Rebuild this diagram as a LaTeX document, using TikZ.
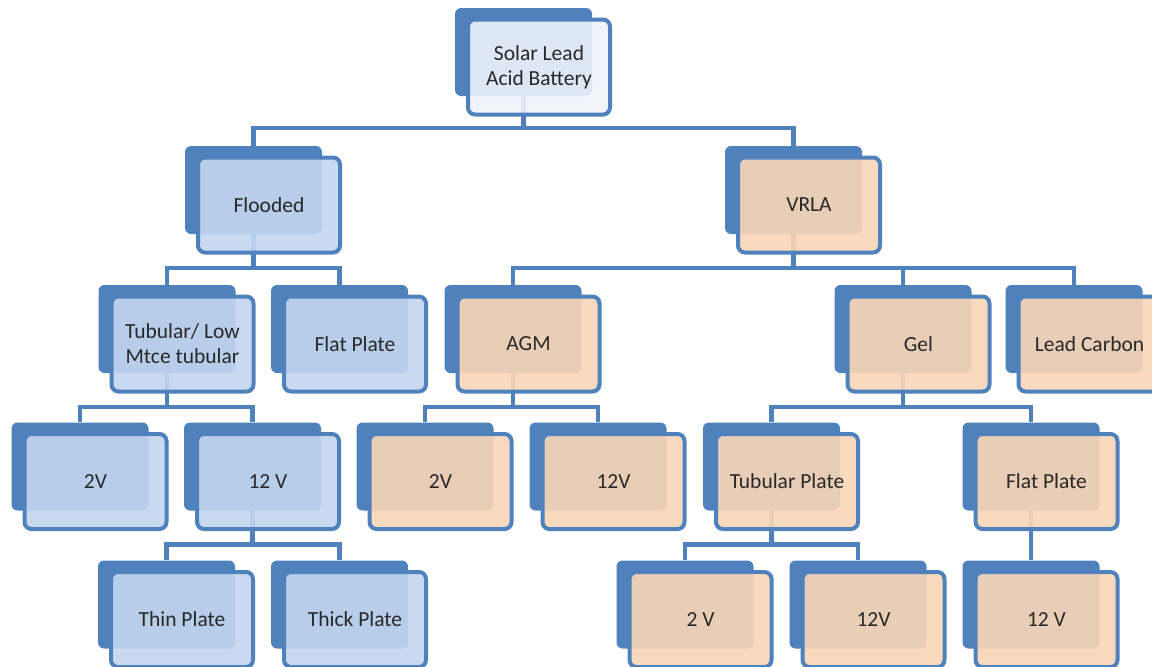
\documentclass[tikz,border=0pt]{standalone}
\usepackage{fontspec}
\setmainfont{Carlito}
\definecolor{bblue}{RGB}{79,129,189}
\definecolor{lblue}{RGB}{195,214,238}
\definecolor{wblue}{RGB}{238,243,250}
\definecolor{lorange}{RGB}{249,214,183}
\definecolor{txt}{RGB}{40,40,40}
\tikzset{
  backbox/.style={fill=bblue, draw=none, rounded corners=6pt, minimum width=137pt, minimum height=88pt, inner sep=0pt},
  frontbox/.style={draw=bblue, line width=4pt, rounded corners=7pt, minimum width=142pt, minimum height=95pt,
    inner sep=0pt, fill opacity=0.9, text opacity=1, align=center, text=txt,
    font=\fontsize{21.5pt}{25pt}\selectfont},
  wh/.style={frontbox, fill=wblue},
  bl/.style={frontbox, fill=lblue},
  or/.style={frontbox, fill=lorange},
  conn/.style={draw=bblue, line width=4.5pt, line join=miter}
}
\begin{document}
\begin{tikzpicture}[x=1pt,y=-1pt]
\useasboundingbox (0,0) rectangle (1152,667);
\clip (0,0) rectangle (1152,667);
% back boxes
\node[backbox] (rootb) at (523.5,52) {};
\node[backbox] (floodb) at (253.5,190) {};
\node[backbox] (vrlab) at (793.5,190) {};
\node[backbox] (tubb) at (167,329) {};
\node[backbox] (fpb) at (339.5,329) {};
\node[backbox] (agmb) at (513,329) {};
\node[backbox] (gelb) at (903,329) {};
\node[backbox] (lcb) at (1074,329) {};
\node[backbox] (tvtwob) at (80,466.5) {};
\node[backbox] (tvtwelveb) at (252.5,466.5) {};
\node[backbox] (atwob) at (425,466.5) {};
\node[backbox] (atwelveb) at (598,466.5) {};
\node[backbox] (tpb) at (771.5,466.5) {};
\node[backbox] (gfpb) at (1031,466.5) {};
\node[backbox] (thinb) at (166.5,604.5) {};
\node[backbox] (thickb) at (339.5,604.5) {};
\node[backbox] (tptwob) at (685,604.5) {};
\node[backbox] (tptwelveb) at (858,604.5) {};
\node[backbox] (gftwelveb) at (1031,604.5) {};
% connectors
\draw[conn] (rootb.south) -- ++(0,32) -| (floodb.north);
\draw[conn] (rootb.south) -- ++(0,32) -| (vrlab.north);
\draw[conn] (floodb.south) -- ++(0,34) -| (tubb.north);
\draw[conn] (floodb.south) -- ++(0,34) -| (fpb.north);
\draw[conn] (vrlab.south) -- ++(0,34) -| (agmb.north);
\draw[conn] (vrlab.south) -- ++(0,34) -| (gelb.north);
\draw[conn] (vrlab.south) -- ++(0,34) -| (lcb.north);
\draw[conn] (tubb.south) -- ++(0,34) -| (tvtwob.north);
\draw[conn] (tubb.south) -- ++(0,34) -| (tvtwelveb.north);
\draw[conn] (agmb.south) -- ++(0,34) -| (atwob.north);
\draw[conn] (agmb.south) -- ++(0,34) -| (atwelveb.north);
\draw[conn] (gelb.south) -- ++(0,34) -| (tpb.north);
\draw[conn] (gelb.south) -- ++(0,34) -| (gfpb.north);
\draw[conn] (tvtwelveb.south) -- ++(0,34) -| (thinb.north);
\draw[conn] (tvtwelveb.south) -- ++(0,34) -| (thickb.north);
\draw[conn] (tpb.south) -- ++(0,34) -| (tptwob.north);
\draw[conn] (tpb.south) -- ++(0,34) -| (tptwelveb.north);
\draw[conn] (gfpb.south) -- (gftwelveb.north);
% front boxes
\node[wh] (root) at ([shift={(15.5,15)}]rootb.center) {Solar Lead\\Acid Battery};
\node[bl] (flood) at ([shift={(15.5,15)}]floodb.center) {Flooded};
\node[or] (vrla) at ([shift={(15.5,15)}]vrlab.center) {VRLA};
\node[bl] (tub) at ([shift={(15.5,15)}]tubb.center) {Tubular/ Low\\Mtce tubular};
\node[bl] (fp) at ([shift={(15.5,15)}]fpb.center) {Flat Plate};
\node[or] (agm) at ([shift={(15.5,15)}]agmb.center) {AGM};
\node[or] (gel) at ([shift={(15.5,15)}]gelb.center) {Gel};
\node[or] (lc) at ([shift={(15.5,15)}]lcb.center) {Lead Carbon};
\node[bl] (tvtwo) at ([shift={(15.5,15)}]tvtwob.center) {2V};
\node[bl] (tvtwelve) at ([shift={(15.5,15)}]tvtwelveb.center) {12 V};
\node[or] (atwo) at ([shift={(15.5,15)}]atwob.center) {2V};
\node[or] (atwelve) at ([shift={(15.5,15)}]atwelveb.center) {12V};
\node[or] (tp) at ([shift={(15.5,15)}]tpb.center) {Tubular Plate};
\node[or] (gfp) at ([shift={(15.5,15)}]gfpb.center) {Flat Plate};
\node[bl] (thin) at ([shift={(15.5,15)}]thinb.center) {Thin Plate};
\node[bl] (thick) at ([shift={(15.5,15)}]thickb.center) {Thick Plate};
\node[or] (tptwo) at ([shift={(15.5,15)}]tptwob.center) {2 V};
\node[or] (tptwelve) at ([shift={(15.5,15)}]tptwelveb.center) {12V};
\node[or] (gftwelve) at ([shift={(15.5,15)}]gftwelveb.center) {12 V};
\end{tikzpicture}
\end{document}
